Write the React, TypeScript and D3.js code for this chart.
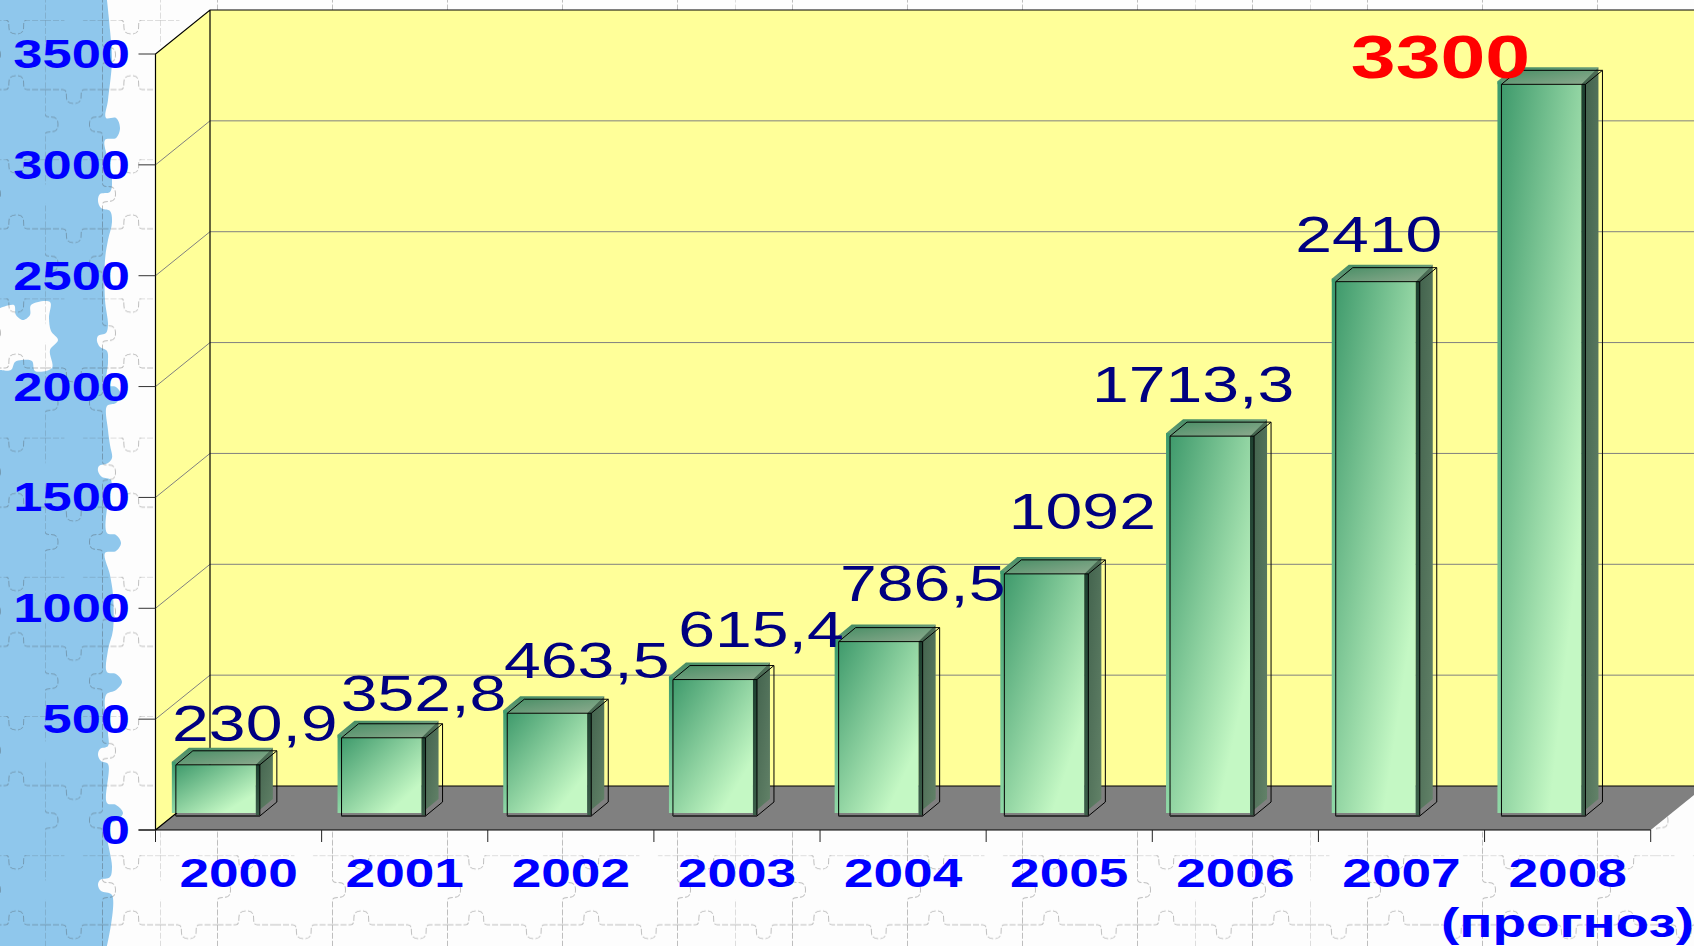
import { useEffect, useRef } from 'react'
import * as d3 from 'd3'

const YEARS = ['2000', '2001', '2002', '2003', '2004', '2005', '2006', '2007', '2008']
const VALUES = [230.9, 352.8, 463.5, 615.4, 786.5, 1092, 1713.3, 2410, 3300]
const Y_TICKS = [0, 500, 1000, 1500, 2000, 2500, 3000, 3500]
const FORECAST_NOTE = '(прогноз)'
const HIGHLIGHT_YEAR = '2008'

// hand placed labels, the same way they sit on the original slide
const LABEL_DX = [37, 40, 37.5, 46, 42, 36, -19, -9, -103]
const LABEL_DY = [-24, -27, -35, -33, -41, -45, -34, -30, -6]

const WIDTH = 1694
const HEIGHT = 946
const FONT = '"Liberation Sans", Arial, sans-serif'
const STRETCH = 1.28

// 3d chart box
const DEPTH_X = 54.5
const DEPTH_Y = 44
const BAR_DX = 17
const BAR_DY = 14

// torn edge of the blue strip, top to bottom
const BLUE_EDGE: [number, number][] = [
  [107, 0], [110, 30], [112, 60], [108, 100], [106, 118], [116, 118], [120, 128], [116, 138], [105, 140],
  [108, 160], [112, 180], [110, 192], [100, 194], [98, 201], [101, 208], [110, 211], [112, 222], [108, 240],
  [105, 260], [105, 300], [108, 325], [106, 333], [98, 336], [97, 341], [100, 347], [107, 351], [108, 362],
  [107, 385], [116, 387], [121, 395], [116, 403], [107, 406], [108, 430], [110, 445], [112, 458], [108, 463],
  [99, 466], [98, 471], [102, 477], [111, 480], [108, 500], [107, 533], [116, 535], [121, 543], [116, 551],
  [105, 553], [110, 575], [113, 595], [113, 630], [108, 650], [107, 672], [116, 674], [122, 682], [116, 690],
  [106, 695], [108, 733], [108, 746], [100, 749], [98, 755], [101, 761], [108, 764], [107, 803], [116, 805],
  [123, 813], [116, 821], [107, 825], [112, 867], [110, 877], [100, 880], [98, 885], [101, 891], [112, 895],
  [107, 946],
]
const WHITE_HOLE: [number, number][] = [
  [0, 308], [14, 305], [16, 315], [23, 320], [30, 315], [31, 305], [50, 302], [49, 318], [51, 331], [58, 340],
  [50, 350], [52, 368], [35, 371], [32, 361], [22, 360], [15, 362], [11, 370], [0, 370],
]

const hSeg = (x0: number, y: number, len: number, s: number) => {
  const m = x0 + len / 2
  return `M${x0},${y}L${m - 11},${y}C${m - 3},${y} ${m - 13},${y - 14 * s} ${m},${y - 14 * s}` +
    `C${m + 13},${y - 14 * s} ${m + 3},${y} ${m + 11},${y}L${x0 + len},${y}`
}
const vSeg = (x: number, y0: number, len: number, s: number) => {
  const m = y0 + len / 2
  return `M${x},${y0}L${x},${m - 11}C${x},${m - 3} ${x + 13 * s},${m - 13} ${x + 13 * s},${m}` +
    `C${x + 13 * s},${m + 13} ${x},${m + 3} ${x},${m + 11}L${x},${y0 + len}`
}

export default function App() {
  const svgRef = useRef<SVGSVGElement>(null)

  useEffect(() => {
    const svgEl = svgRef.current
    if (!svgEl) return
    const svg = d3.select(svgEl)
    svg.selectAll('*').remove()

    const y = d3.scaleLinear().domain([0, 3500]).range([830, 54])
    const xAxis = d3.scaleBand().domain(YEARS).range([155.5, 1650.7])
    const xBar = d3.scaleBand().domain(YEARS).range([135, 1626.3]).paddingInner(0.493).paddingOuter(0.2465)

    const y0 = y(0)
    const yTop = y(3500)
    const xL = xAxis.range()[0]
    const xR = xAxis.range()[1]

    // gradients
    const defs = svg.append('defs')
    const grad = (id: string, stops: [number, string][], x2 = 1, y2 = 1) => {
      const g = defs.append('linearGradient').attr('id', id)
        .attr('x1', 0).attr('y1', 0).attr('x2', x2).attr('y2', y2)
      stops.forEach(([o, c]) => g.append('stop').attr('offset', o).attr('stop-color', c))
    }
    grad('front', [[0, '#3f9a6c'], [0.8, '#c4f8c4'], [1, '#c4f8c4']])
    grad('strip', [[0, '#3d9a6e'], [1, '#8fd8a6']], 0, 1)
    grad('band', [[0, '#1e4030'], [1, '#3c5e4a']], 0, 1)
    grad('side', [[0, '#3f5f4a'], [1, '#628268']])
    grad('roof', [[0, '#3f8a60'], [1, '#90ac90']])

    // puzzle background
    const tileW = 115
    const tileH = 139.2
    const pat = defs.append('pattern').attr('id', 'puzzle').attr('patternUnits', 'userSpaceOnUse')
      .attr('x', 160).attr('y', 20).attr('width', tileW).attr('height', tileH)
    const half = tileW / 2
    const row = tileH / 2
    const tile = [
      hSeg(0, 0, half, 1), hSeg(half, 0, half, -1),
      hSeg(0, row, half, -1), hSeg(half, row, half, 1),
      vSeg(0, 0, row, -1), vSeg(half, 0, row, 1),
      vSeg(0, row, row, 1), vSeg(half, row, row, -1),
    ].join('')
    pat.append('path').attr('d', tile).attr('fill', 'none')
      .attr('stroke', 'rgba(60,60,60,0.33)').attr('stroke-width', 1).attr('stroke-dasharray', '6 2')

    svg.append('rect').attr('width', WIDTH).attr('height', HEIGHT).attr('fill', '#fdfdfd')
    const edge = d3.line().curve(d3.curveCatmullRom.alpha(0.5))
    svg.append('path')
      .attr('d', `${edge(BLUE_EDGE)}L0,${HEIGHT}L0,0Z`)
      .attr('fill', '#8fc7ec')
    svg.append('path')
      .attr('d', `${edge(WHITE_HOLE)}Z`)
      .attr('fill', '#fdfdfd')
    svg.append('rect').attr('width', WIDTH).attr('height', HEIGHT).attr('fill', 'url(#puzzle)')

    // walls and floor
    const wallColor = '#ffff99'
    const backL = xL + DEPTH_X
    const backB = y0 - DEPTH_Y
    const backT = yTop - DEPTH_Y
    svg.append('rect').attr('x', backL).attr('y', backT).attr('width', WIDTH - backL).attr('height', backB - backT)
      .attr('fill', wallColor)
    svg.append('path').attr('d', `M${xL},${yTop}L${backL},${backT}L${backL},${backB}L${xL},${y0}Z`)
      .attr('fill', wallColor)
    svg.append('path').attr('d', `M${xL},${y0}L${xR},${y0}L${xR + DEPTH_X},${backB}L${backL},${backB}Z`)
      .attr('fill', '#808080')

    // gridlines
    Y_TICKS.slice(1, -1).forEach(t => {
      svg.append('path')
        .attr('d', `M${xL},${y(t)}L${backL},${y(t) - DEPTH_Y}L${WIDTH},${y(t) - DEPTH_Y}`)
        .attr('fill', 'none').attr('stroke', '#808080').attr('stroke-width', 1)
    })

    // box edges
    svg.append('path')
      .attr('d', `M${xL},${y0}L${xL},${yTop}L${backL},${backT}L${WIDTH},${backT}M${backL},${backT}L${backL},${backB}` +
        `L${WIDTH},${backB}M${backL},${backB}L${xL},${y0}`)
      .attr('fill', 'none').attr('stroke', '#000').attr('stroke-width', 1.2)

    // axes
    Y_TICKS.forEach(t => {
      svg.append('line').attr('x1', xL - 17).attr('x2', xL).attr('y1', y(t)).attr('y2', y(t))
        .attr('stroke', '#333').attr('stroke-width', 1)
      svg.append('text')
        .attr('transform', `translate(130,${y(t) + 14}) scale(${STRETCH},1)`)
        .attr('text-anchor', 'end')
        .attr('font-family', FONT).attr('font-size', 41).attr('font-weight', 700).attr('fill', '#0000ff')
        .text(t)
    })
    svg.append('line').attr('x1', xL - 17).attr('x2', xR).attr('y1', y0).attr('y2', y0)
      .attr('stroke', '#000').attr('stroke-width', 1.2)
    ;[...YEARS.map(d => xAxis(d) as number), xR].forEach(tx => {
      svg.append('line').attr('x1', tx).attr('x2', tx).attr('y1', y0).attr('y2', y0 + 12)
        .attr('stroke', '#222').attr('stroke-width', 1)
    })
    YEARS.forEach(d => {
      svg.append('text')
        .attr('transform', `translate(${(xAxis(d) as number) + xAxis.bandwidth() / 2},887) scale(1.33,1)`)
        .attr('text-anchor', 'middle')
        .attr('font-family', FONT).attr('font-size', 40).attr('font-weight', 700).attr('fill', '#0000ff')
        .text(d)
    })
    svg.append('text')
      .attr('x', 1441).attr('y', 937).attr('textLength', 253).attr('lengthAdjust', 'spacingAndGlyphs')
      .attr('font-family', FONT).attr('font-size', 40).attr('font-weight', 700).attr('fill', '#0000ff')
      .text(FORECAST_NOTE)

    // bars: the fill sits a little up and left of its outline, like in the original
    const shiftX = -4
    const shiftY = -3
    const w = xBar.bandwidth()
    const base = y0 - BAR_DY
    YEARS.forEach((d, i) => {
      const x0 = xBar(d) as number
      const x1 = x0 + w
      const top = y(VALUES[i]) - BAR_DY
      const g = svg.append('g')

      const fx0 = x0 + shiftX
      const fx1 = x1 + shiftX
      const ft = top + shiftY
      const fb = base + shiftY
      g.append('path')
        .attr('d', `M${fx1},${ft}L${fx1 + BAR_DX},${ft - BAR_DY}L${fx1 + BAR_DX},${fb - BAR_DY}L${fx1},${fb}Z`)
        .attr('fill', 'url(#side)')
      g.append('path')
        .attr('d', `M${fx0},${top}L${fx0},${ft}L${fx0 + BAR_DX},${ft - BAR_DY}L${fx1 + BAR_DX},${ft - BAR_DY}L${fx1},${top}Z`)
        .attr('fill', 'url(#roof)')
      g.append('rect').attr('x', fx0).attr('y', ft).attr('width', -shiftX).attr('height', fb - ft)
        .attr('fill', 'url(#strip)')
      g.append('rect').attr('x', x0).attr('y', top).attr('width', w + shiftX).attr('height', fb - top)
        .attr('fill', 'url(#front)')
      g.append('rect').attr('x', fx1).attr('y', top).attr('width', -shiftX).attr('height', base - top)
        .attr('fill', 'url(#band)')

      g.append('path')
        .attr('d', `M${x0},${base}L${x0},${top}L${x1},${top}L${x1},${base}Z` +
          `M${x0},${top}L${x0 + BAR_DX},${top - BAR_DY}L${x1 + BAR_DX},${top - BAR_DY}L${x1},${top}` +
          `M${x1 + BAR_DX},${top - BAR_DY}L${x1 + BAR_DX},${base - BAR_DY}L${x1},${base}`)
        .attr('fill', 'none').attr('stroke', '#000').attr('stroke-width', 1)
      g.append('line').attr('x1', x0).attr('x2', x1).attr('y1', base).attr('y2', base)
        .attr('stroke', '#333').attr('stroke-width', 2)
    })

    // value labels on top of everything
    YEARS.forEach((d, i) => {
      const hot = d === HIGHLIGHT_YEAR
      const cx = (xBar(d) as number) + w / 2 + LABEL_DX[i]
      const by = y(VALUES[i]) - BAR_DY + LABEL_DY[i]
      svg.append('text')
        .attr('transform', `translate(${cx},${by}) scale(${hot ? 1.3 : 1.31},1)`)
        .attr('text-anchor', 'middle')
        .attr('font-family', FONT)
        .attr('font-size', hot ? 62 : 50.5)
        .attr('font-weight', hot ? 700 : 400)
        .attr('fill', hot ? '#ff0000' : '#000080')
        .text(String(VALUES[i]).replace('.', ','))
    })
  }, [])

  return (
    <svg
      ref={svgRef}
      width={WIDTH}
      height={HEIGHT}
      style={{ position: 'absolute', left: 0, top: 0, display: 'block' }}
    />
  )
}
